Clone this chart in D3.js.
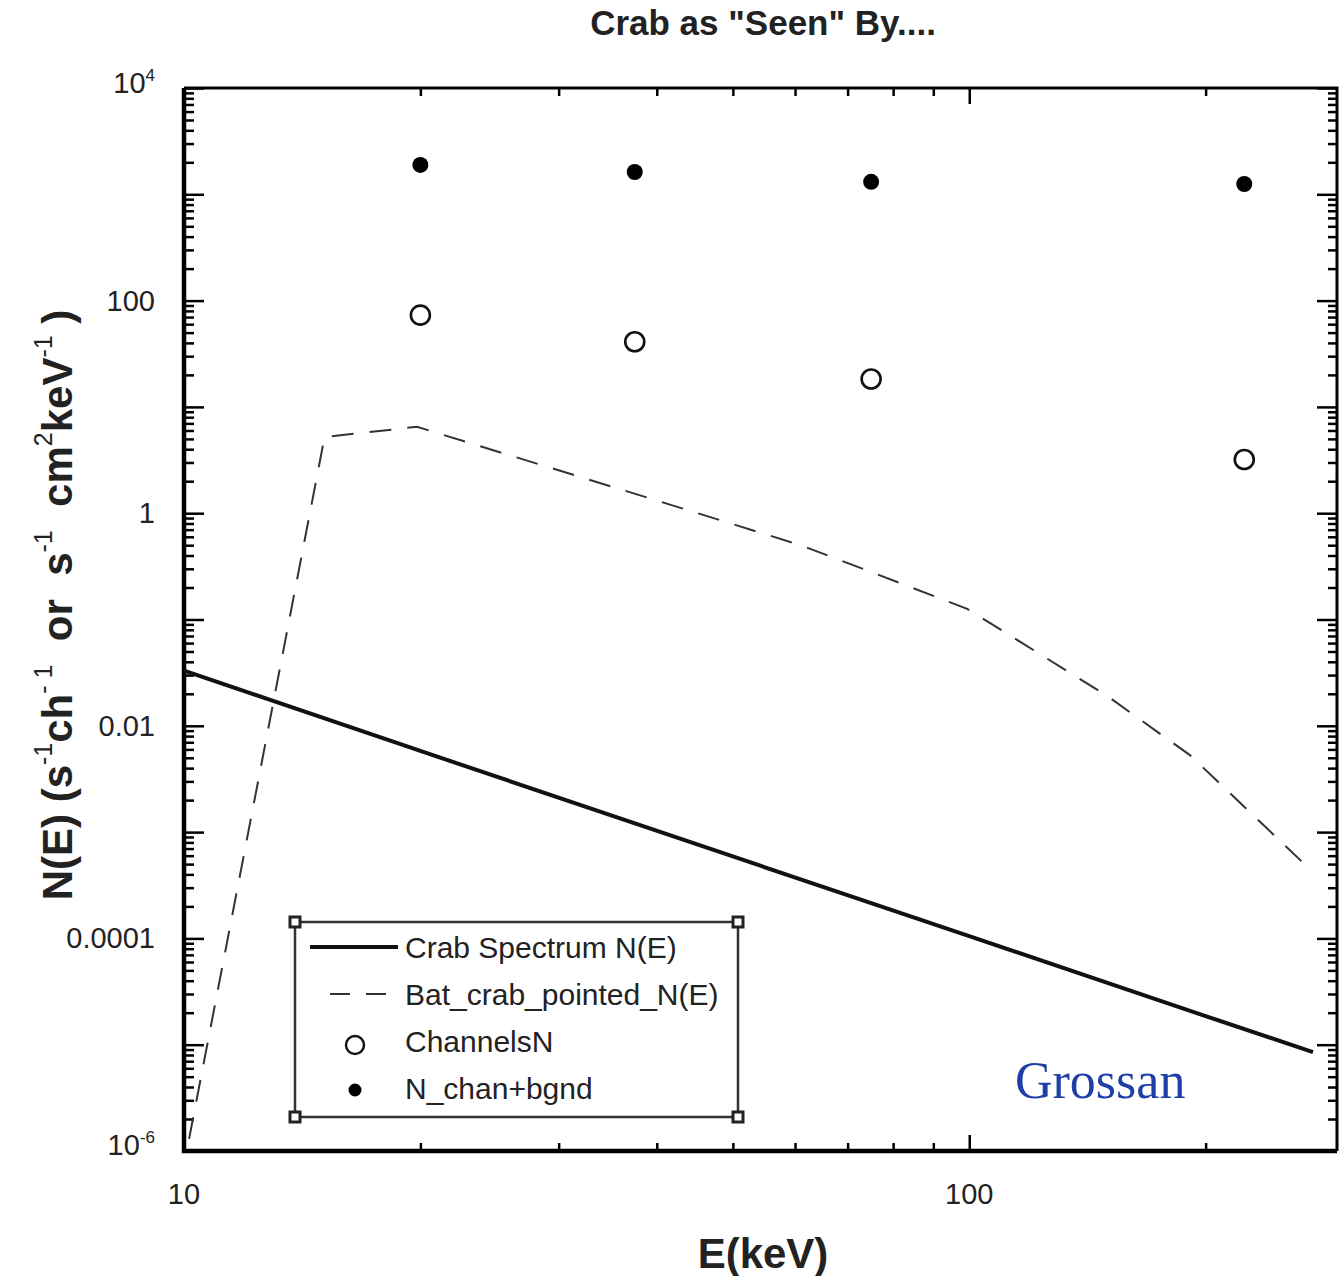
<!DOCTYPE html>
<html lang="en">
<head>
    <meta charset="UTF-8">
    <title>Crab as "Seen" By....</title>
    <script src="https://cdn.jsdelivr.net/npm/d3@7"></script>
    <style>
        body {
            margin: 0;
            background: #fff;
        }
    </style>
</head>
<body>
<svg id="graphDiv" width="1340" height="1276"></svg>
<script>
    // channel energies (keV)
    var chanE = [20, 37.5, 75, 224];
    // ChannelsN (open circles)
    var channelsN = [73, 41, 18.3, 3.2];
    // N_chan+bgnd (filled dots)
    var chanBgnd = [1890, 1620, 1310, 1250];

    // Crab Spectrum N(E) (solid)
    var crabE = [10, 20, 50, 100, 200, 274];
    var crabN = [0.033, 0.0058, 0.00059, 0.000105, 0.0000186, 0.0000085];

    // Bat_crab_pointed_N(E) (dashed)
    var batE = [10.15, 15.1, 19.8, 38, 61, 75, 99.4, 150, 191, 274];
    var batN = [0.0000013, 5.2, 6.5, 1.48, 0.5, 0.28, 0.126, 0.019, 0.0053, 0.00042];

    var yLabelVals = [1e4, 100, 1, 0.01, 0.0001, 1e-6];
    var xLabelVals = [10, 100];

    var legendNames = ["Crab Spectrum N(E)", "Bat_crab_pointed_N(E)", "ChannelsN", "N_chan+bgnd"];

    var FONT = "'Liberation Sans', Arial, sans-serif";
    var svg = d3.select("#graphDiv");

    var pLeft = 184, pRight = 1337, pTop = 88, pBottom = 1151;

    var x = d3.scaleLog().domain([10, 294]).range([pLeft, pRight]);
    var y = d3.scaleLog().domain([1e-6, 1e4]).range([pBottom, pTop]);

    // ---- ticks (all inward, on the four sides)
    var decadesY = d3.range(-6, 5).map(function (p) { return Math.pow(10, p); });
    var minorY = [];
    decadesY.slice(0, -1).forEach(function (d) {
        for (var k = 2; k < 10; k++) minorY.push(d * k);
    });
    var majorX = [10, 100];
    var minorX = x.ticks().filter(function (v) { return majorX.indexOf(v) < 0 && v > 10; });

    function tickGroup(axisFn, scale, vals, size, tr) {
        var g = svg.append("g")
            .attr("transform", tr)
            .call(axisFn(scale).tickValues(vals).tickSize(size).tickFormat(""));
        g.select(".domain").remove();
        g.selectAll("line").attr("stroke", "#000").attr("stroke-width", 2.5);
        return g;
    }

    tickGroup(d3.axisLeft, y, decadesY, -20, "translate(" + pLeft + ",0)");
    tickGroup(d3.axisLeft, y, minorY, -10, "translate(" + pLeft + ",0)");
    tickGroup(d3.axisRight, y, decadesY, -20, "translate(" + pRight + ",0)");
    tickGroup(d3.axisRight, y, minorY, -9, "translate(" + pRight + ",0)");
    tickGroup(d3.axisBottom, x, majorX, -16, "translate(0," + pBottom + ")");
    tickGroup(d3.axisBottom, x, minorX, -8, "translate(0," + pBottom + ")");
    tickGroup(d3.axisTop, x, majorX, -16, "translate(0," + pTop + ")");
    tickGroup(d3.axisTop, x, minorX, -8, "translate(0," + pTop + ")");

    // frame
    svg.append("path")
        .attr("d", "M" + pLeft + "," + pTop + "H" + pRight + "V" + pBottom)
        .attr("fill", "none").attr("stroke", "#000").attr("stroke-width", 3);
    svg.append("path")
        .attr("d", "M" + pLeft + "," + pTop + "V" + pBottom + "H" + pRight)
        .attr("fill", "none").attr("stroke", "#000").attr("stroke-width", 4.5);

    // ---- tick labels
    var yl = svg.append("g").selectAll("text")
        .data(yLabelVals).enter().append("text")
        .attr("x", 155)
        .attr("y", function (d) { return y(d) + 10; })
        .attr("text-anchor", "end")
        .style("font-family", FONT)
        .attr("font-size", 29)
        .attr("fill", "#222");
    yl.each(function (d) {
        var t = d3.select(this);
        if (d >= 1e4 || d <= 1e-6) {
            t.append("tspan").text("10");
            t.append("tspan").attr("dy", -12).attr("font-size", 17)
                .text(d >= 1e4 ? "4" : "-6");
        } else {
            t.text(d3.format("~")(d));
        }
    });
    // the power labels sit a little above their ticks
    yl.filter(function (d) { return d <= 1e-6; }).attr("y", y(1e-6) + 4);
    yl.filter(function (d) { return d >= 1e4; }).attr("y", y(1e4) + 5);

    svg.append("g").selectAll("text")
        .data(xLabelVals).enter().append("text")
        .attr("x", function (d) { return x(d); })
        .attr("y", 1204)
        .attr("text-anchor", "middle")
        .style("font-family", FONT)
        .attr("font-size", 29)
        .attr("fill", "#222")
        .text(function (d) { return d; });

    // ---- titles
    svg.append("text")
        .attr("x", 763).attr("y", 35)
        .attr("text-anchor", "middle")
        .style("font-family", FONT)
        .attr("font-size", 35).attr("font-weight", "bold")
        .attr("fill", "#222")
        .text('Crab as "Seen" By....');

    svg.append("text")
        .attr("x", 763).attr("y", 1268)
        .attr("text-anchor", "middle")
        .style("font-family", FONT)
        .attr("font-size", 42).attr("font-weight", "bold")
        .attr("fill", "#222")
        .text("E(keV)");

    var yt = svg.append("text")
        .attr("transform", "translate(72,605) rotate(-90)")
        .attr("text-anchor", "middle")
        .style("font-family", FONT)
        .attr("font-size", 42).attr("font-weight", "bold")
        .attr("fill", "#222");
    var parts = [["N(E) (s", 0], ["-1", 1], ["ch", 0], ["- 1", 1], ["  or  s", 0], ["-1", 1],
        ["  cm", 0], ["2", 1], ["keV", 0], ["-1", 1], [" )", 0]];
    parts.forEach(function (p, i) {
        var prev = i > 0 ? parts[i - 1][1] : 0;
        var dy = p[1] === prev ? 0 : (p[1] ? -20 : 20);
        yt.append("tspan")
            .attr("dy", dy)
            .attr("font-size", p[1] ? 25 : 42)
            .attr("font-weight", p[1] ? "normal" : "bold")
            .style("white-space", "pre")
            .text(p[0]);
    });

    // ---- series
    var crabData = crabE.map(function (e, i) { return {e: e, n: crabN[i]}; });
    var batData = batE.map(function (e, i) { return {e: e, n: batN[i]}; });
    var line = d3.line()
        .x(function (d) { return x(d.e); })
        .y(function (d) { return y(d.n); });

    svg.append("path")
        .datum(batData)
        .attr("d", line)
        .attr("fill", "none")
        .attr("stroke", "#333")
        .attr("stroke-width", 2)
        .attr("stroke-dasharray", "22,16");

    svg.append("path")
        .datum(crabData)
        .attr("d", line)
        .attr("fill", "none")
        .attr("stroke", "#111")
        .attr("stroke-width", 4);

    svg.append("g").selectAll("circle")
        .data(chanE).enter().append("circle")
        .attr("cx", function (d) { return x(d); })
        .attr("cy", function (d, i) { return y(channelsN[i]); })
        .attr("r", 9.5)
        .attr("fill", "#fff")
        .attr("stroke", "#111")
        .attr("stroke-width", 2.6);

    svg.append("g").selectAll("circle")
        .data(chanE).enter().append("circle")
        .attr("cx", function (d) { return x(d); })
        .attr("cy", function (d, i) { return y(chanBgnd[i]); })
        .attr("r", 8)
        .attr("fill", "#000");

    // ---- legend
    var lg = svg.append("g");
    lg.append("rect")
        .attr("x", 295).attr("y", 922)
        .attr("width", 443).attr("height", 195)
        .attr("fill", "none")
        .attr("stroke", "#333")
        .attr("stroke-width", 2.5);
    [[295, 922], [738, 922], [295, 1117], [738, 1117]].forEach(function (c) {
        lg.append("rect")
            .attr("x", c[0] - 5).attr("y", c[1] - 5)
            .attr("width", 10).attr("height", 10)
            .attr("fill", "#fff")
            .attr("stroke", "#222")
            .attr("stroke-width", 3);
    });
    var rowY = [947, 994, 1041, 1088];
    lg.selectAll("text.lbl")
        .data(legendNames).enter().append("text")
        .attr("class", "lbl")
        .attr("x", 405)
        .attr("y", function (d, i) { return rowY[i] + 11; })
        .style("font-family", FONT)
        .attr("font-size", 30)
        .attr("fill", "#222")
        .text(function (d) { return d; });
    lg.append("line")
        .attr("x1", 310).attr("x2", 398).attr("y1", rowY[0]).attr("y2", rowY[0])
        .attr("stroke", "#111").attr("stroke-width", 4);
    lg.append("line")
        .attr("x1", 330).attr("x2", 398).attr("y1", rowY[1]).attr("y2", rowY[1])
        .attr("stroke", "#333").attr("stroke-width", 2)
        .attr("stroke-dasharray", "20,16");
    lg.append("circle")
        .attr("cx", 355).attr("cy", rowY[2] + 4).attr("r", 9)
        .attr("fill", "#fff").attr("stroke", "#111").attr("stroke-width", 2.4);
    lg.append("circle")
        .attr("cx", 355).attr("cy", rowY[3] + 2).attr("r", 6.5)
        .attr("fill", "#000");

    // signature
    svg.append("text")
        .attr("x", 1015).attr("y", 1098)
        .style("font-family", "'Liberation Serif', 'Times New Roman', serif")
        .attr("font-size", 52)
        .attr("fill", "#1f3fa8")
        .text("Grossan");
</script>
</body>
</html>
